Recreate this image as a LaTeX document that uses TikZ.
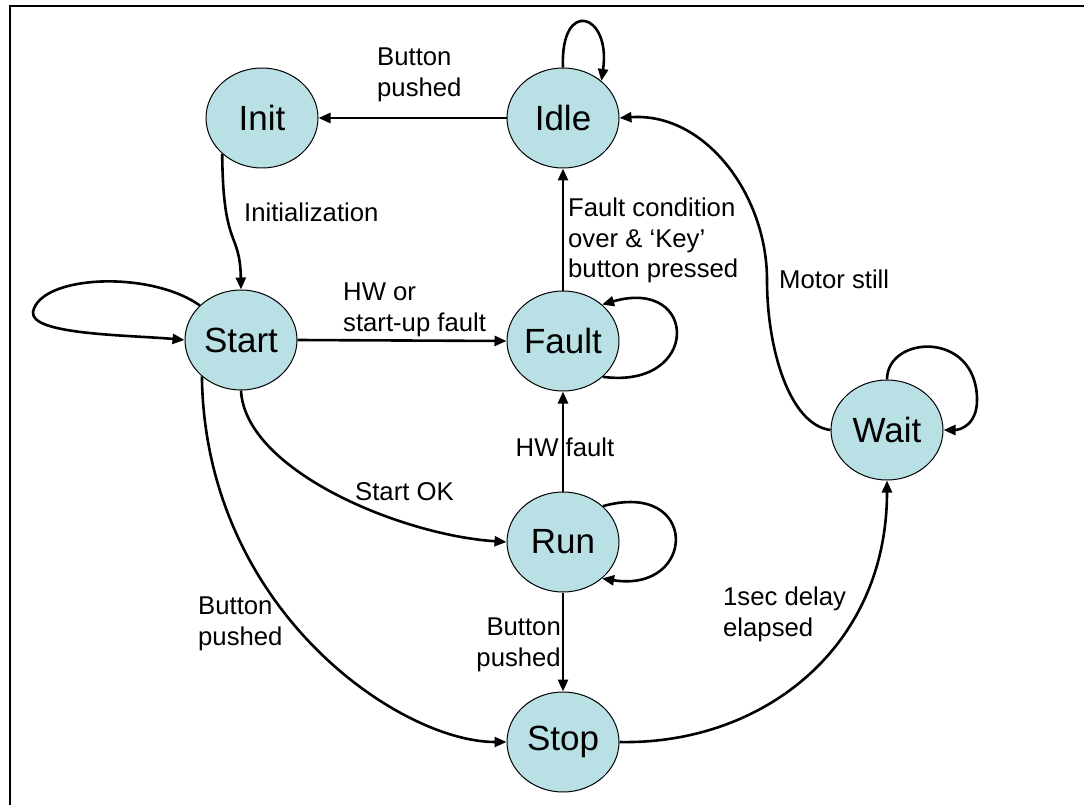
\documentclass[tikz,border=0pt]{standalone}
\usepackage{fontspec}
\setmainfont{Liberation Sans}
\usetikzlibrary{shapes.geometric,arrows.meta}
\definecolor{statefill}{RGB}{185,224,228}
\tikzset{
  state/.style={ellipse, draw=black, line width=1pt, fill=statefill,
    minimum width=112pt, minimum height=100pt, inner sep=0pt,
    font=\fontsize{35}{40}\selectfont},
  trans/.style={line width=2.6pt, -{Triangle[length=12pt,width=10pt]}},
  lbl/.style={inner sep=0pt, font=\fontsize{25.7}{30.5}\selectfont},
}
\begin{document}
\begin{tikzpicture}[x=1pt,y=-1pt]
\useasboundingbox (0,0) rectangle (1084,805);
\draw[line width=2.4pt] (10,805) -- (10,6) -- (1084,6);

\node[state] (init)  at (262,118) {Init};
\node[state] (idle)  at (563,118) {Idle};
\node[state] (start) at (241,340) {Start};
\node[state] (fault) at (563,341) {Fault};
\node[state] (run)   at (563,542) {Run};
\node[state] (stop)  at (563,742) {Stop};
\node[state] (wait)  at (887,430) {Wait};

% Idle -> Init
\draw[trans] (idle.west) -- (init.east);
\node[lbl, anchor=north west, align=left] (l1) at (377,48) {Button\\pushed};
% Idle self loop
\draw[trans] (idle.90) .. controls +(-3,-70) and +(10,-68) .. (idle.44);
% Init -> Start
\draw[trans] (init.222) .. controls (223,250) and (240,230) .. (start.north);
\node[lbl, anchor=north west] (l2) at (244,203) {Initialization};
% Start self loop
\draw[trans] (start.140) .. controls (150,270) and (40,275) .. (33,312)
  .. controls (30,335) and (130,335) .. (start.180);
% Start -> Fault
\draw[trans] (start.east) -- (fault.west);
\node[lbl, anchor=north west, align=left] (l3) at (343,283) {HW or\\start-up fault};
% Fault -> Idle
\draw[trans] (fault.north) -- (idle.south);
\node[lbl, anchor=north west, align=left] (l4) at (568,198) {Fault condition\\over \& ‘Key’\\button pressed};
% Fault self loop
\draw[trans] (fault.-42) .. controls +(98,13) and +(97,-28) .. (fault.43);
% Run -> Fault
\draw[trans] (run.north) -- (fault.south);
\node[lbl] (l5) at (565,447.5) {HW fault};
% Run self loop
\draw[trans] (run.42) .. controls +(97,-27) and +(95,15) .. (run.-43);
% Start -> Run
\draw[trans] (start.south) .. controls (245,470) and (400,535) .. (run.west);
\node[lbl, anchor=north west] (l6) at (355,482) {Start OK};
% Start -> Stop
\draw[trans] (start.223) .. controls (205,610) and (400,742) .. (stop.west);
\node[lbl, anchor=north west, align=left] (l7) at (198,597) {Button\\pushed};
% Run -> Stop
\draw[trans] (run.south) -- (stop.north);
\node[lbl, anchor=north east, align=right] (l8) at (561,618) {Button\\pushed};
% Stop -> Wait
\draw[trans] (stop.east) .. controls (760,745) and (887,650) .. (wait.south);
\node[lbl, anchor=north west, align=left] (l9) at (723,587) {1sec delay\\elapsed};
% Wait -> Idle
\draw[trans] (wait.west) .. controls (790,425) and (767,350) .. (767,280)
  .. controls (767,195) and (705,112) .. (idle.east);
\node[lbl, anchor=north west] (l10) at (779,270) {Motor still};
% Wait self loop
\draw[trans] (wait.90) .. controls (887,335) and (977,330) .. (977,400)
  .. controls (977,425) and (960,430) .. (wait.0);
\end{tikzpicture}
\end{document}
